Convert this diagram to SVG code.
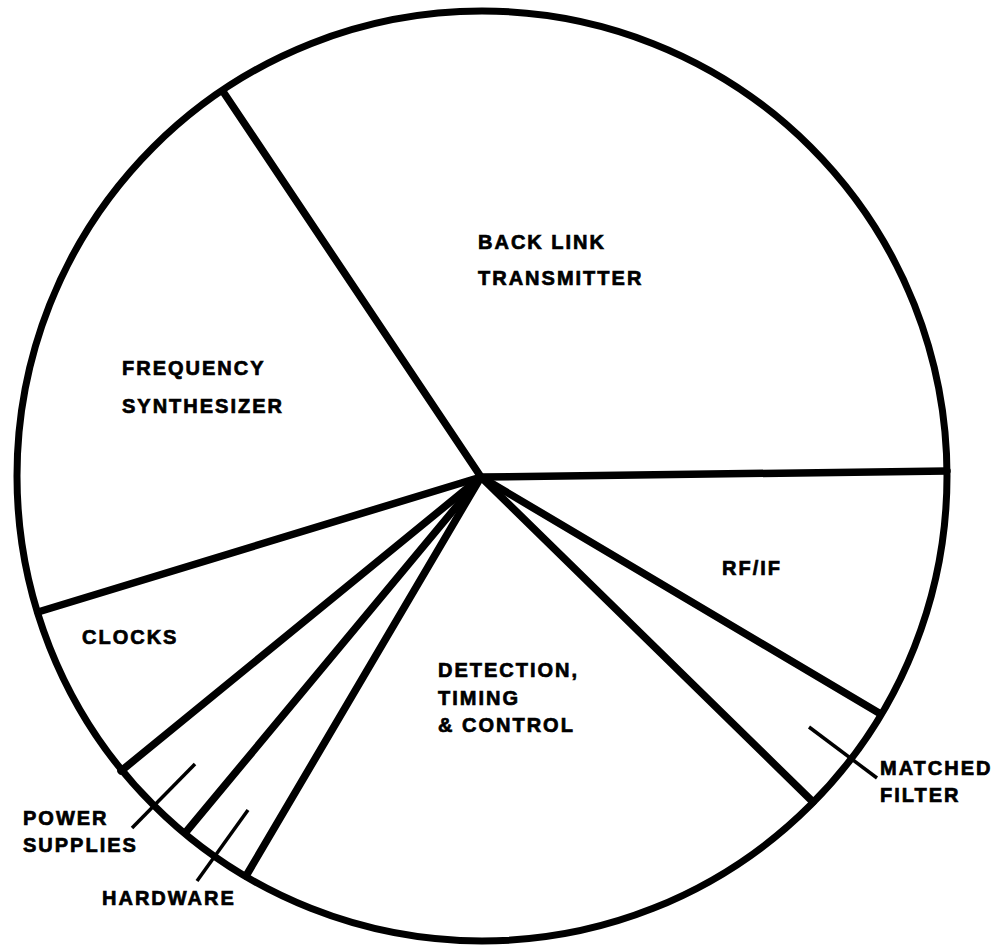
<svg xmlns="http://www.w3.org/2000/svg" width="1000" height="946" viewBox="0 0 1000 946">
  <style>
    .rim { fill: none; stroke: #000; stroke-width: 7; }
    .spoke { stroke: #000; stroke-width: 7.5; stroke-linecap: round; }
    .leader { stroke: #000; stroke-width: 3.5; stroke-linecap: butt; }
    .lbl { font-family: "Liberation Sans", Arial, Helvetica, sans-serif; font-weight: bold; font-size: 20px; letter-spacing: 2px; fill: #000; stroke: #000; stroke-width: 0.7; }
  </style>
  <rect width="1000" height="946" fill="#fff"/>

  <!-- pie outline -->
  <g id="pie">
    <circle class="rim" cx="482" cy="476" r="465"/>
  </g>

  <!-- sector dividers and label leaders -->
  <g id="connectors">
    <line class="spoke" x1="481" y1="477" x2="224" y2="93"/>
    <line class="spoke" x1="481" y1="477" x2="947" y2="471"/>
    <line class="spoke" x1="481" y1="477" x2="38" y2="612"/>
    <line class="spoke" x1="481" y1="477" x2="121" y2="771"/>
    <line class="spoke" x1="481" y1="477" x2="186" y2="832"/>
    <line class="spoke" x1="481" y1="477" x2="246" y2="876"/>
    <line class="spoke" x1="481" y1="477" x2="813" y2="802"/>
    <line class="spoke" x1="481" y1="477" x2="879" y2="713"/>
    <line class="leader" x1="195" y1="764" x2="132" y2="828"/>
    <line class="leader" x1="248" y1="810" x2="197" y2="881"/>
    <line class="leader" x1="809" y1="727" x2="877" y2="778"/>
  </g>

  <g id="back-link-transmitter">
    <text class="lbl" x="478" y="249">BACK LINK</text>
    <text class="lbl" x="478" y="285">TRANSMITTER</text>
  </g>
  <g id="frequency-synthesizer">
    <text class="lbl" x="122" y="375">FREQUENCY</text>
    <text class="lbl" x="122" y="413">SYNTHESIZER</text>
  </g>
  <g id="rf-if">
    <text class="lbl" x="722" y="575">RF/IF</text>
  </g>
  <g id="clocks">
    <text class="lbl" x="82" y="644">CLOCKS</text>
  </g>
  <g id="detection-timing-control">
    <text class="lbl" x="438" y="677">DETECTION,</text>
    <text class="lbl" x="438" y="705">TIMING</text>
    <text class="lbl" x="438" y="732">&amp; CONTROL</text>
  </g>
  <g id="matched-filter">
    <text class="lbl" x="880" y="775">MATCHED</text>
    <text class="lbl" x="880" y="802">FILTER</text>
  </g>
  <g id="power-supplies">
    <text class="lbl" x="23" y="825">POWER</text>
    <text class="lbl" x="23" y="852">SUPPLIES</text>
  </g>
  <g id="hardware">
    <text class="lbl" x="102" y="905">HARDWARE</text>
  </g>
</svg>
